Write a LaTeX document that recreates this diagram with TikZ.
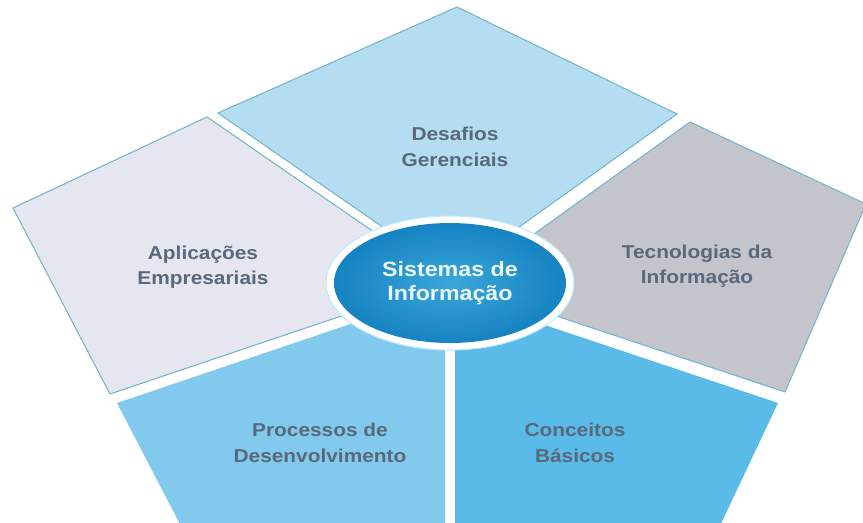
\documentclass[tikz,border=0pt]{standalone}
\usepackage{fontspec}
\setmainfont{Liberation Sans}[FakeStretch=1.12]
\usetikzlibrary{shapes.geometric}
\definecolor{desafio}{HTML}{B4DDF2}
\definecolor{aplica}{HTML}{E6E6F0}
\definecolor{tecno}{HTML}{C4C4CC}
\definecolor{processo}{HTML}{82C9EE}
\definecolor{conceito}{HTML}{5ABBE9}
\definecolor{rim}{HTML}{74B6C8}
\definecolor{rotulo}{HTML}{59687A}
\definecolor{coremid}{HTML}{3AA6DA}
\definecolor{coreedge}{HTML}{1683C2}

\begin{document}
\begin{tikzpicture}[x=0.02cm,y=-0.02cm,
    panel/.style={fill=#1},
    edged/.style={draw=rim,line width=0.6pt},
    areatext/.style={font=\fontsize{10.6}{14.5}\selectfont\bfseries,text=rotulo,align=center},
    ring/.style={ellipse,fill=white,draw=cyan!25,line width=0.6pt,minimum width=4.96cm,minimum height=2.68cm},
    core/.style={ellipse,inner color=coremid,outer color=coreedge,
        minimum width=4.64cm,minimum height=2.4cm,inner sep=0pt,text=cyan!8,
        font=\fontsize{11.8}{13.5}\selectfont\bfseries,align=center}]

    \fill[white] (0,0) rectangle (863,522);
    \useasboundingbox (0,0) rectangle (863,522);
    \clip (0,0) rectangle (863,522);

    %    the five pieces round the centre
    \filldraw[panel=desafio,edged] (218,113) -- (457,7) -- (677,114) -- (452,275) -- cycle;
    \filldraw[panel=aplica,edged] (207,117) -- (13,208) -- (110,394) -- (445,281) -- cycle;
    \filldraw[panel=tecno,edged] (690,122) -- (866,204) -- (785,392) -- (463,285) -- cycle;
    \fill[panel=processo] (117,403) -- (445,292) -- (445,530) -- (183,530) -- cycle;
    \fill[panel=conceito] (455,295) -- (778,403) -- (718,530) -- (455,530) -- cycle;

    \node[ring] (ring) at (450,283) {};
    \node[core] (core) at (ring.center) {Sistemas de\\Informação};

    \node[areatext] (desafios) at (455,147) {Desafios\\Gerenciais};
    \node[areatext] (aplicacoes) at (203,267) {Aplicações\\Empresariais};
    \node[areatext] (tecnologias) at (697,266) {Tecnologias da\\Informação};
    \node[areatext] (processos) at (320,443) {Processos de\\Desenvolvimento};
    \node[areatext] (conceitos) at (575,443) {Conceitos\\Básicos};
\end{tikzpicture}
\end{document}
